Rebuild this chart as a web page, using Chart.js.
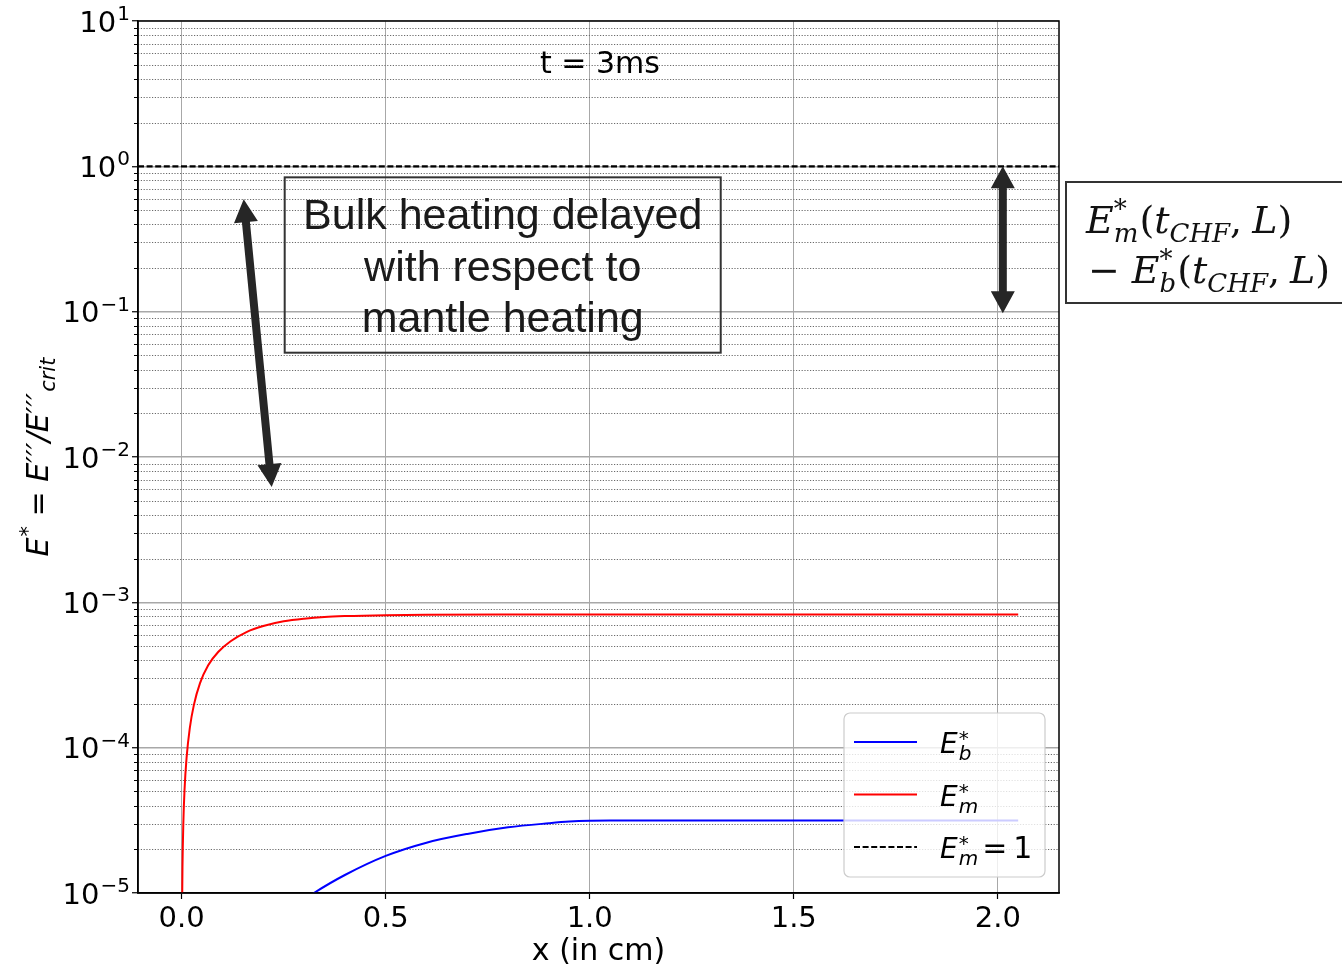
<!DOCTYPE html>
<html>
<head>
<meta charset="utf-8">
<script src="https://cdn.jsdelivr.net/npm/chart.js@4.4.1/dist/chart.umd.min.js"></script>
<style>
    html, body { margin: 0; padding: 0; background: #fff; }
    #wrap { width: 1342px; height: 967px; }
</style>
</head>
<body>
<div id="wrap"><canvas id="chart" width="1342" height="967"></canvas></div>
<script>
// axes
const xTicks = [0.0, 0.5, 1.0, 1.5, 2.0];
const yTicks = [1e-5, 1e-4, 1e-3, 1e-2, 1e-1, 1, 10];
const yTickExponents = ["−5", "−4", "−3", "−2", "−1", "0", "1"];
const minorSteps = [2, 3, 4, 5, 6, 7, 8, 9];

// E*_m (mantle)
const xMantle = [0.001, 0.002, 0.004, 0.007, 0.012, 0.02, 0.03, 0.045, 0.065, 0.09,
    0.12, 0.16, 0.2, 0.25, 0.3, 0.35, 0.4, 0.5, 0.6, 0.8, 1.2, 1.6, 2.05];
const emValues = [7.5e-6, 1.5e-5, 2.95e-5, 5.1e-5, 8.5e-5, 1.37e-4, 1.97e-4, 2.78e-4, 3.69e-4, 4.57e-4,
    5.4e-4, 6.27e-4, 6.87e-4, 7.4e-4, 7.72e-4, 7.93e-4, 8.04e-4, 8.16e-4, 8.21e-4, 8.24e-4, 8.25e-4, 8.25e-4, 8.25e-4];

// E*_b (bulk)
const xBulk = [0.25, 0.28, 0.324, 0.4, 0.5, 0.6, 0.7, 0.8, 0.9, 0.95, 1.0, 1.05, 1.5, 2.05];
const ebValues = [7.2e-6, 8.25e-6, 1.0e-5, 1.33e-5, 1.8e-5, 2.22e-5, 2.55e-5, 2.83e-5, 3.02e-5, 3.1e-5, 3.14e-5, 3.15e-5, 3.15e-5, 3.15e-5];

// E*_m = 1 reference line
const xCrit = [-0.107, 2.15];
const critValues = [1, 1];

const FAM = '"DejaVu Sans"';
const SERIF = '"DejaVu Serif"';

function pts(xs, ys) {
    return xs.map((x, i) => ({ x: x, y: ys[i] }));
}

// draws a row of text pieces, some with stacked sup/sub scripts
function richText(ctx, x, y, parts, align) {
    const widths = parts.map((p) => {
        ctx.font = p.font;
        let w;
        if (p.t !== undefined) w = ctx.measureText(p.t).width;
        else w = Math.max(ctx.measureText(p.sup || "").width, ctx.measureText(p.sub || "").width);
        return w + (p.pre || 0);
    });
    const total = widths.reduce((a, b) => a + b, 0);
    let cx = align === "center" ? x - total / 2 : align === "right" ? x - total : x;
    ctx.textBaseline = "alphabetic";
    ctx.textAlign = "left";
    parts.forEach((p, i) => {
        ctx.font = p.font;
        const px = cx + (p.pre || 0);
        if (p.t !== undefined) ctx.fillText(p.t, px, y + (p.dy || 0));
        else {
            if (p.sup) ctx.fillText(p.sup, px, y + p.supDy);
            if (p.sub) ctx.fillText(p.sub, px, y + p.subDy);
        }
        cx += widths[i];
    });
}

function doubleArrow(ctx, x1, y1, x2, y2, w, hl, hw) {
    const len = Math.hypot(x2 - x1, y2 - y1);
    const ux = (x2 - x1) / len, uy = (y2 - y1) / len;
    const nx = -uy, ny = ux;
    const a = [x1 + ux * hl, y1 + uy * hl];
    const b = [x2 - ux * hl, y2 - uy * hl];
    ctx.beginPath();
    ctx.moveTo(x1, y1);
    ctx.lineTo(a[0] + nx * hw / 2, a[1] + ny * hw / 2);
    ctx.lineTo(a[0] + nx * w / 2, a[1] + ny * w / 2);
    ctx.lineTo(b[0] + nx * w / 2, b[1] + ny * w / 2);
    ctx.lineTo(b[0] + nx * hw / 2, b[1] + ny * hw / 2);
    ctx.lineTo(x2, y2);
    ctx.lineTo(b[0] - nx * hw / 2, b[1] - ny * hw / 2);
    ctx.lineTo(b[0] - nx * w / 2, b[1] - ny * w / 2);
    ctx.lineTo(a[0] - nx * w / 2, a[1] - ny * w / 2);
    ctx.lineTo(a[0] - nx * hw / 2, a[1] - ny * hw / 2);
    ctx.closePath();
    ctx.fillStyle = "#262626";
    ctx.fill();
}

const extras = {
    id: "extras",
    beforeDatasetsDraw(chart) {
        // dotted minor grid on the log axis
        const ctx = chart.ctx, area = chart.chartArea, ys = chart.scales.y;
        ctx.save();
        for (let d = -5; d < 1; d++) {
            minorSteps.forEach((m) => {
                const py = Math.round(ys.getPixelForValue(m * Math.pow(10, d))) + 0.5;
                ctx.setLineDash([1.2, 1.6]);
                ctx.strokeStyle = "#6a6a6a";
                ctx.lineWidth = 1;
                ctx.beginPath();
                ctx.moveTo(area.left, py);
                ctx.lineTo(area.right, py);
                ctx.stroke();
                ctx.setLineDash([]);
                ctx.strokeStyle = "#000";
                ctx.beginPath();
                ctx.moveTo(area.left - 4, py);
                ctx.lineTo(area.left, py);
                ctx.stroke();
            });
        }
        ctx.restore();
    },
    afterDatasetsDraw(chart) {
        const ctx = chart.ctx, area = chart.chartArea;
        const xs = chart.scales.x, ys = chart.scales.y;
        ctx.save();

        // frame
        ctx.strokeStyle = "#000";
        ctx.lineWidth = 1.5;
        ctx.strokeRect(area.left, area.top, area.right - area.left, area.bottom - area.top);

        // title inside the axes
        ctx.fillStyle = "#000";
        ctx.font = "30px " + FAM;
        ctx.textAlign = "center";
        ctx.textBaseline = "middle";
        ctx.fillText("t = 3ms", xs.getPixelForValue(1.025), ys.getPixelForValue(4.95));

        // arrows
        doubleArrow(ctx, xs.getPixelForValue(0.152), ys.getPixelForValue(0.593),
            xs.getPixelForValue(0.2206), ys.getPixelForValue(0.00622), 8, 23, 24);
        doubleArrow(ctx, xs.getPixelForValue(2.0123), ys.getPixelForValue(1),
            xs.getPixelForValue(2.0123), ys.getPixelForValue(0.0974), 8, 22, 24);

        // text box
        const bx0 = xs.getPixelForValue(0.2525), bx1 = xs.getPixelForValue(1.321);
        const by0 = ys.getPixelForValue(0.84), by1 = ys.getPixelForValue(0.0522);
        ctx.strokeStyle = "#333";
        ctx.lineWidth = 2;
        ctx.strokeRect(bx0, by0, bx1 - bx0, by1 - by0);
        ctx.fillStyle = "#1a1a1a";
        ctx.font = '43px "Liberation Sans"';
        ctx.textAlign = "center";
        ctx.textBaseline = "alphabetic";
        const cx = (bx0 + bx1) / 2;
        ctx.fillText("Bulk heating delayed", cx, by0 + 52);
        ctx.fillText("with respect to", cx, by0 + 104);
        ctx.fillText("mantle heating", cx, by0 + 155);

        // legend
        const lx = area.right - 215, ly = area.bottom - 180;
        ctx.beginPath();
        ctx.roundRect(lx, ly, 201, 164, 6);
        ctx.fillStyle = "rgba(255,255,255,0.8)";
        ctx.fill();
        ctx.strokeStyle = "#cccccc";
        ctx.lineWidth = 1.2;
        ctx.stroke();
        const it28 = "italic 28px " + FAM, it19 = "italic 20px " + FAM, rg28 = "30px " + FAM;
        const legendRows = [
            [{ t: "E", font: it28 }, { sup: "*", sub: "b", font: it19, supDy: -8, subDy: 7, pre: 1 }],
            [{ t: "E", font: it28 }, { sup: "*", sub: "m", font: it19, supDy: -8, subDy: 7, pre: 1 }],
            [{ t: "E", font: it28 }, { sup: "*", sub: "m", font: it19, supDy: -8, subDy: 7, pre: 1 },
                { t: "=", font: rg28, pre: 4 }, { t: "1", font: rg28, pre: 6 }],
        ];
        chart.data.datasets.forEach((ds, i) => {
            const ry = ly + 29 + i * 52.5;
            ctx.strokeStyle = ds.borderColor;
            ctx.lineWidth = ds.borderWidth;
            ctx.setLineDash(ds.borderDash || []);
            ctx.beginPath();
            ctx.moveTo(lx + 10, ry);
            ctx.lineTo(lx + 73, ry);
            ctx.stroke();
            ctx.setLineDash([]);
            ctx.fillStyle = "#000";
            richText(ctx, lx + 96, ry + 11, legendRows[i], "left");
        });

        ctx.restore();
    },
    afterDraw(chart) {
        const ctx = chart.ctx, area = chart.chartArea, ys = chart.scales.y;
        ctx.save();
        ctx.fillStyle = "#000";

        // log tick labels as 10 with a raised exponent
        yTicks.forEach((v, i) => {
            const py = ys.getPixelForValue(v);
            richText(ctx, area.left - 8, py + 10.5, [
                { t: "10", font: "29px " + FAM },
                { sup: yTickExponents[i], font: "20px " + FAM, supDy: -11.5, pre: 1 },
            ], "right");
        });

        // y-axis label, rotated
        ctx.translate(48, (area.top + area.bottom) / 2);
        ctx.rotate(-Math.PI / 2);
        const it = "italic 30px " + FAM, small = "italic 21px " + FAM;
        richText(ctx, 0, 0, [
            { t: "E", font: it },
            { sup: "*", font: small, supDy: -13, pre: 1 },
            { t: " = ", font: "30px " + FAM },
            { t: "E′′′/E′′′", font: it },
            { sub: "crit", font: small, subDy: 7, pre: 1 },
        ], "center");
        ctx.restore();

        // side box outside the axes
        ctx.save();
        const rx = area.right + 7, ry0 = area.top + 161;
        ctx.fillStyle = "#fff";
        ctx.fillRect(rx, ry0, 300, 121);
        ctx.strokeStyle = "#333";
        ctx.lineWidth = 2;
        ctx.strokeRect(rx, ry0, 300, 121);
        ctx.fillStyle = "#111";
        const sI = "italic 38px " + SERIF, sR = "38px " + SERIF, sS = "italic 26px " + SERIF;
        const tail = [
            { t: "(", font: sR, pre: 1 },
            { t: "t", font: sI },
            { sub: "CHF", font: sS, subDy: 9 },
            { t: ",", font: sR },
            { t: "L", font: sI, pre: 10 },
            { t: ")", font: sR },
        ];
        richText(ctx, rx + 20, ry0 + 51, [
            { t: "E", font: sI },
            { sup: "*", sub: "m", font: sS, supDy: -15, subDy: 9 },
        ].concat(tail), "left");
        richText(ctx, rx + 22, ry0 + 101, [
            { t: "−", font: sR },
            { t: "E", font: sI, pre: 12 },
            { sup: "*", sub: "b", font: sS, supDy: -15, subDy: 9 },
        ].concat(tail), "left");
        ctx.restore();
    },
};

new Chart(document.getElementById("chart"), {
    type: "line",
    data: {
        datasets: [
            {
                label: "E*_b",
                data: pts(xBulk, ebValues),
                borderColor: "#0000ff",
                borderWidth: 2,
                pointRadius: 0,
                cubicInterpolationMode: "monotone",
            },
            {
                label: "E*_m",
                data: pts(xMantle, emValues),
                borderColor: "#ff0000",
                borderWidth: 2,
                pointRadius: 0,
                cubicInterpolationMode: "monotone",
            },
            {
                label: "E*_m = 1",
                data: pts(xCrit, critValues),
                borderColor: "#000000",
                borderWidth: 2.2,
                borderDash: [6, 2.6],
                pointRadius: 0,
            },
        ],
    },
    options: {
        responsive: false,
        animation: false,
        devicePixelRatio: 1,
        layout: { padding: { top: 21, right: 283, bottom: 0, left: 0 } },
        plugins: {
            legend: { display: false },
            tooltip: { enabled: false },
        },
        scales: {
            x: {
                type: "linear",
                min: -0.107,
                max: 2.15,
                afterBuildTicks: (s) => { s.ticks = xTicks.map((v) => ({ value: v })); },
                afterFit: (s) => { s.height = 74; },
                ticks: {
                    callback: (v) => Number(v).toFixed(1),
                    font: { family: "DejaVu Sans", size: 29 },
                    color: "#000",
                    padding: 3,
                    maxRotation: 0,
                    autoSkip: false,
                },
                grid: { color: "#a8a8a8", lineWidth: 1, tickColor: "#000", tickLength: 6, tickWidth: 1.2 },
                border: { color: "#000", width: 1.5 },
                title: {
                    display: true,
                    text: "x (in cm)",
                    font: { family: "DejaVu Sans", size: 30 },
                    color: "#000",
                    padding: { top: 0, bottom: -3 },
                },
            },
            y: {
                type: "logarithmic",
                min: 1e-5,
                max: 10,
                afterBuildTicks: (s) => { s.ticks = yTicks.map((v) => ({ value: v, major: true })); },
                afterFit: (s) => { s.width = 138; },
                ticks: { display: false },
                grid: { color: "#a8a8a8", lineWidth: 1.5, tickColor: "#000", tickLength: 6, tickWidth: 1.2 },
                border: { color: "#000", width: 1.5 },
            },
        },
    },
    plugins: [extras],
});
</script>
</body>
</html>
